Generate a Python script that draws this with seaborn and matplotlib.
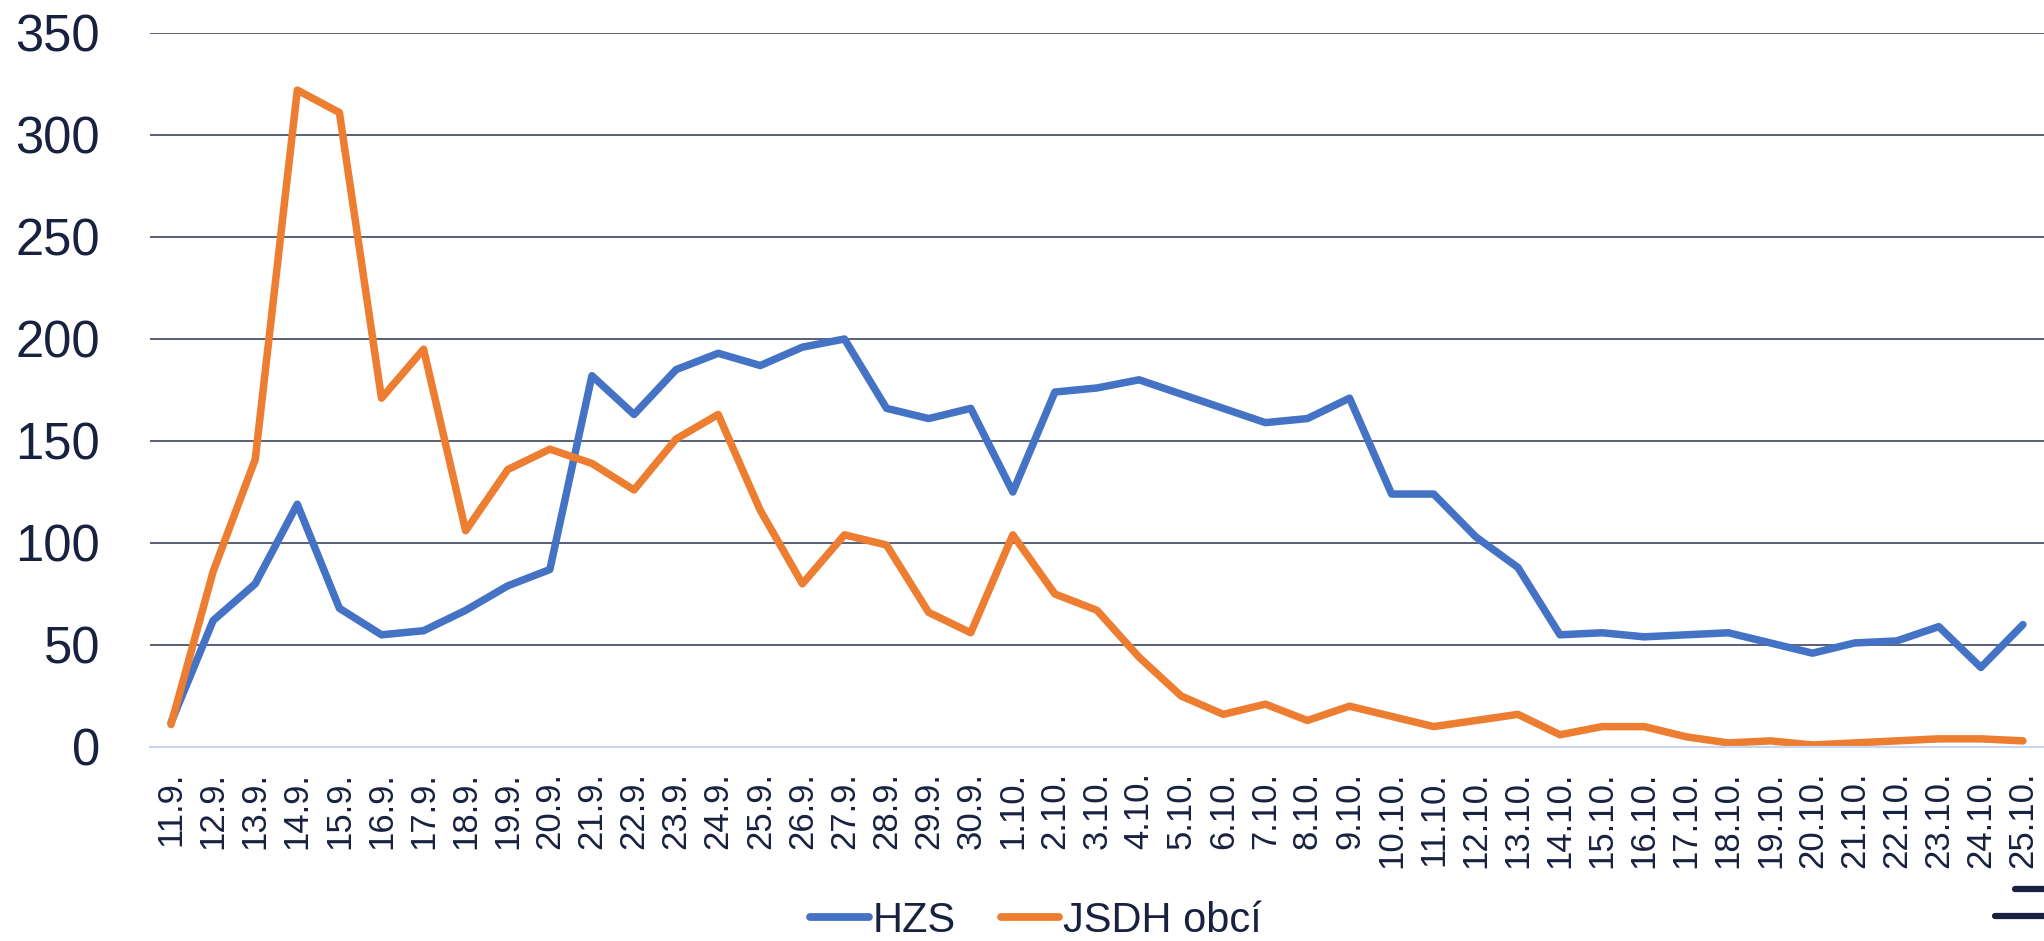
import matplotlib
matplotlib.use("Agg")
import matplotlib.pyplot as plt
from matplotlib.lines import Line2D
import pandas as pd
import seaborn as sns

sns.set_theme(style="white")
plt.rcParams["font.family"] = ["Liberation Sans", "DejaVu Sans"]

# daily counts, 11.9. - 25.10.
days = ["11.9.", "12.9.", "13.9.", "14.9.", "15.9.", "16.9.", "17.9.", "18.9.",
        "19.9.", "20.9.", "21.9.", "22.9.", "23.9.", "24.9.", "25.9.", "26.9.",
        "27.9.", "28.9.", "29.9.", "30.9.", "1.10.", "2.10.", "3.10.", "4.10.",
        "5.10.", "6.10.", "7.10.", "8.10.", "9.10.", "10.10.", "11.10.", "12.10.",
        "13.10.", "14.10.", "15.10.", "16.10.", "17.10.", "18.10.", "19.10.",
        "20.10.", "21.10.", "22.10.", "23.10.", "24.10.", "25.10."]
hzs = [12, 62, 80, 119, 68, 55, 57, 67, 79, 87, 182, 163, 185, 193, 187, 196,
       200, 166, 161, 166, 125, 174, 176, 180, 173, 166, 159, 161, 171, 124,
       124, 103, 88, 55, 56, 54, 55, 56, 51, 46, 51, 52, 59, 39, 60]
jsdh = [11, 86, 141, 322, 311, 171, 195, 106, 136, 146, 139, 126, 151, 163,
        116, 80, 104, 99, 66, 56, 104, 75, 67, 44, 25, 16, 21, 13, 20, 15, 10,
        13, 16, 6, 10, 10, 5, 2, 3, 1, 2, 3, 4, 4, 3]
series = ["HZS", "JSDH obcí"]
colors = ["#4472C4", "#ED7D31"]

df = pd.DataFrame({
    "pos": list(range(len(days))) * 2,
    "value": hzs + jsdh,
    "series": [series[0]] * len(days) + [series[1]] * len(days),
})

TEXT = "#18213f"

fig = plt.figure(figsize=(20.44, 9.41), dpi=100)
ax = fig.add_axes([150 / 2044, 1 - 747 / 941, 1 - 150 / 2044, (747 - 33) / 941])

sns.lineplot(data=df, x="pos", y="value", hue="series", hue_order=series,
             palette=colors, linewidth=5.4, ax=ax, legend=False)
for ln in ax.get_lines():
    ln.set_solid_joinstyle("round")
    ln.set_solid_capstyle("round")

ax.set_xlim(-0.5, len(days) - 0.5)
ax.set_ylim(0, 350)
ax.set_yticks(range(0, 351, 50))
ax.set_xticks(range(len(days)))
ax.set_xticklabels(days, rotation=90, va="top", ha="center")
ax.tick_params(axis="y", labelsize=36.5, colors=TEXT, pad=36, length=0)
ax.tick_params(axis="x", labelsize=25, colors=TEXT, pad=18, length=0)
ax.set_xlabel("")
ax.set_ylabel("")

ax.yaxis.grid(True, color="#2c3552", linewidth=1.1)
ax.set_axisbelow(True)
for s in ["top", "right", "left"]:
    ax.spines[s].set_visible(False)
ax.spines["bottom"].set_color("#c9d6ee")
ax.spines["bottom"].set_linewidth(1.6)

handles = [Line2D([0], [0], color=c, linewidth=5.6, solid_capstyle="round") for c in colors]
leg = fig.legend(handles, series, loc="center", bbox_to_anchor=(1036 / 2044, 1 - 921 / 941),
                 ncol=2, frameon=False, handlelength=1.4, handletextpad=0.08,
                 columnspacing=1.1, borderpad=0, prop={"size": 30})
for t in leg.get_texts():
    t.set_color(TEXT)

# stray marks at the bottom right corner of the original
for x0, y0, lw in [(2015, 889, 4.5), (1995, 916, 4.5)]:
    fig.add_artist(Line2D([x0 / 2044, 1.0], [1 - y0 / 941] * 2, color=TEXT,
                          linewidth=lw, transform=fig.transFigure))

fig.savefig("out.png", dpi=100)
